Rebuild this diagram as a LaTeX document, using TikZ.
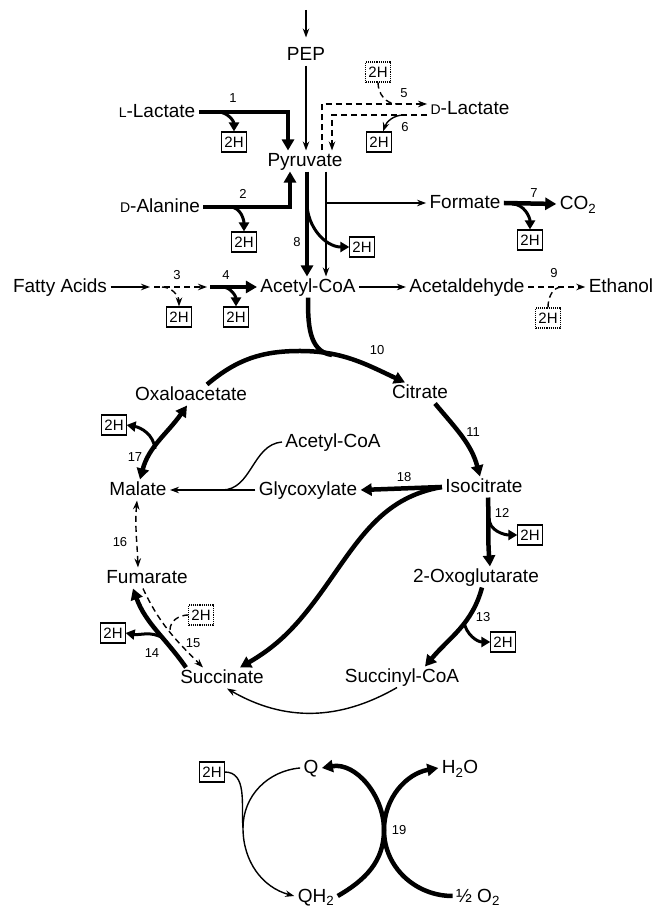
\documentclass[tikz,border=0pt]{standalone}
\usepackage{fontspec}
\setmainfont{Liberation Sans}
\usetikzlibrary{arrows.meta}

\newcommand*{\smallL}[1]{{\fontsize{14}{14}\selectfont #1}}

\begin{document}
\begin{tikzpicture}
[
	x=1pt, y=1pt,
	every node/.style={font=\fontsize{19}{22}\selectfont, text height=13pt, text depth=1pt},
	hbox/.style={draw, line width=1.1pt, font=\fontsize{15}{16}\selectfont, text height=11pt, text depth=0pt, inner xsep=2.5pt, inner ysep=4.5pt},
	dotbox/.style={hbox, densely dotted},
	num/.style={font=\fontsize{13}{14}\selectfont, text height=9pt, text depth=0pt, inner sep=1pt},
	flow/.style={line width=1.4pt, -{Stealth[length=9pt,width=6.5pt]}},
	dflow/.style={flow, dash pattern=on 6pt off 4pt},
	dline/.style={line width=1.4pt, dash pattern=on 6pt off 4pt},
	heavy/.style={line width=4.5pt, -{Triangle[length=11pt,width=12pt]}},
	sidearrow/.style={line width=3pt, -{Triangle[length=9pt,width=10pt]}}
]

	\useasboundingbox (0,0) rectangle (656,910);

	% substrates above the cycle
	\node (pep) at (306,855) {PEP};
	\node (pyr) at (305,749) {Pyruvate};
	\node (llac) at (157,798) {\smallL{L}-Lactate};
	\node (dlac) at (470,801) {\smallL{D}-Lactate};
	\node (dala) at (160,703) {\smallL{D}-Alanine};
	\node (form) at (465,707) {Formate};
	\node (co2) at (578,706) {CO\textsubscript{2}};
	\node (fatty) at (60,623) {Fatty Acids};
	\node (acoa) at (308,623) {Acetyl-CoA};
	\node (acald) at (467,623) {Acetaldehyde};
	\node (etoh) at (621,623) {Ethanol};

	% cycle
	\node (oaa) at (191,515) {Oxaloacetate};
	\node (cit) at (420,517) {Citrate};
	\node (iso) at (484,423) {Isocitrate};
	\node (oxo) at (476,333) {2-Oxoglutarate};
	\node (sca) at (402,233) {Succinyl-CoA};
	\node (succ) at (222,232) {Succinate};
	\node (fum) at (147,332) {Fumarate};
	\node (mal) at (138,420) {Malate};
	\node (glyox) at (308,420) {Glycoxylate};
	\node (acoab) at (333,468) {Acetyl-CoA};

	% quinone
	\node (q) at (311,142) {Q};
	\node (qh2) at (316,14) {QH\textsubscript{2}};
	\node (h2o) at (460,142) {H\textsubscript{2}O};
	\node (ox) at (478,14) {½ O\textsubscript{2}};

	% reducing equivalents
	\node[hbox] (h1) at (234,768) {2H};
	\node[dotbox] (h5) at (378,838) {2H};
	\node[hbox] (h6) at (379,768) {2H};
	\node[hbox] (h2) at (244,668) {2H};
	\node[hbox] (h8) at (362,663) {2H};
	\node[hbox] (h7) at (530,670) {2H};
	\node[hbox] (h3) at (179,593) {2H};
	\node[hbox] (h4) at (236,593) {2H};
	\node[dotbox] (h9) at (548,592) {2H};
	\node[hbox] (h17) at (114,485) {2H};
	\node[hbox] (h12) at (530,375) {2H};
	\node[hbox] (h13) at (503,268) {2H};
	\node[hbox] (h14) at (113,277) {2H};
	\node[dotbox] (h15) at (201,295) {2H};
	\node[hbox] (hq) at (212,138) {2H};

	% reaction numbers
	\node[num] (n1) at (233,812) {1};
	\node[num] (n2) at (243,716) {2};
	\node[num] (n3) at (177,635) {3};
	\node[num] (n4) at (226,635) {4};
	\node[num] (n5) at (404,817) {5};
	\node[num] (n6) at (405,783) {6};
	\node[num] (n7) at (534,717) {7};
	\node[num] (n8) at (297,668) {8};
	\node[num] (n9) at (554,637) {9};
	\node[num] (n10) at (377,560) {10};
	\node[num] (n11) at (473,478) {11};
	\node[num] (n12) at (502,397) {12};
	\node[num] (n13) at (483,293) {13};
	\node[num] (n14) at (152,257) {14};
	\node[num] (n15) at (193,267) {15};
	\node[num] (n16) at (120,368) {16};
	\node[num] (n17) at (135,453) {17};
	\node[num] (n18) at (404,433) {18};
	\node[num] (n19) at (399,80) {19};

	% PEP to pyruvate
	\coordinate (pepin) at (306,900);
	\draw[flow] (pepin) -- ([yshift=7pt]pep.north);
	\draw[flow] (pep.south) -- (pep.south |- pyr.north);

	% lactate and alanine
	\draw[heavy] (llac.east) -| ([xshift=-17pt]pyr.north);
	\coordinate (b1) at (218,798);
	\draw[sidearrow] (b1) to[out=0,in=90] (h1.north);
	\draw[heavy] (dala.east) -| ([xshift=-15pt]pyr.south);
	\coordinate (b2) at (230,703);
	\draw[sidearrow] (b2) to[out=0,in=90] (h2.north);

	\draw[dflow] ([xshift=17pt]pyr.north) |- ([yshift=5pt]dlac.west);
	\draw[dflow] ([yshift=-6pt]dlac.west) -| ([xshift=27pt]pyr.north);
	\coordinate (b5) at (397,806);
	\draw[dline] (h5.south) to[out=-90,in=180] (b5);
	\coordinate (b6) at (404,795);
	\draw[flow] (b6) to[out=180,in=70] ([xshift=4pt]h6.north);

	% pyruvate to acetyl-CoA and formate
	\draw[heavy] ([xshift=2pt]pyr.south) -- ([xshift=2pt]pyr.south |- acoa.north);
	\draw[flow] ([xshift=21pt]pyr.south) -- ([xshift=21pt]pyr.south |- acoa.north);
	\draw[flow] ([xshift=21pt]pyr.south |- form.west) -- (form.west);
	\draw[sidearrow] ([xshift=2pt]pyr.south |- form.west) to[out=-90,in=180] (h8.west);
	\draw[heavy] (form.east) -- (co2.west);
	\coordinate (b7) at (512,706);
	\draw[sidearrow] (b7) to[out=0,in=90] (h7.north);

	% fatty acids, acetaldehyde, ethanol
	\coordinate (fa1) at (150,623);
	\coordinate (fa2) at (207,623);
	\draw[flow] (fatty.east) -- (fa1);
	\draw[dflow] ([xshift=4pt]fa1) -- (fa2);
	\draw[heavy] ([xshift=3pt]fa2) -- (acoa.west);
	\coordinate (b3) at (162,623);
	\draw[dflow] (b3) to[out=0,in=90] (h3.north);
	\coordinate (b4) at (222,623);
	\draw[sidearrow] (b4) to[out=0,in=90] (h4.north);
	\draw[flow] (acoa.east) -- (acald.west);
	\draw[dflow] (acald.east) -- (etoh.west);
	\coordinate (b9) at (562,623);
	\draw[dline] (h9.north) to[out=90,in=180] (b9);

	% citrate cycle
	\coordinate (c10) at (300,559);
	\coordinate (j10) at (332,555);
	\draw[heavy] ([xshift=16pt]oaa.north) to[out=40,in=180] (c10) to[out=0,in=155] ([xshift=-15pt]cit.north);
	\draw[heavy,-] (acoa.south) to[out=-90,in=172] (j10);
	\draw[heavy] ([xshift=15pt]cit.south) to[out=-50,in=105] ([xshift=-4pt]iso.north);
	\draw[heavy] ([xshift=4pt]iso.south) to[out=-88,in=95] ([xshift=14pt]oxo.north);
	\coordinate (b12) at (489,392);
	\draw[sidearrow] (b12) to[out=-90,in=180] (h12.west);
	\draw[heavy] ([xshift=6pt]oxo.south) to[out=-105,in=50] ([xshift=23pt]sca.north);
	\coordinate (b13) at (464,288);
	\draw[sidearrow] (b13) to[out=-80,in=180] (h13.west);
	\draw[flow] ([xshift=-5pt]sca.south) to[out=-150,in=-30] ([xshift=5pt]succ.south);

	% glyoxylate shunt
	\coordinate (sm) at (330,330);
	\draw[heavy] (iso.west) to[out=190,in=55] (sm) to[out=-125,in=30] ([xshift=18pt]succ.north);
	\draw[heavy] (iso.west) -- (glyox.east);
	\draw[flow] (glyox.west) -- (mal.east);
	\coordinate (jg) at (222,420);
	\draw[line width=1.4pt] (acoab.west) to[out=185,in=0] (jg);

	% malate, fumarate, succinate
	\draw[heavy,{Triangle[length=11pt,width=12pt]}-{Triangle[length=11pt,width=12pt]}] ([xshift=2pt]mal.north) to[out=75,in=-125] ([xshift=-4pt]oaa.south);
	\coordinate (b17) at (155,461);
	\draw[sidearrow] (b17) to[out=95,in=-10] (h17.east);
	\draw[dflow,{Stealth[length=9pt,width=6.5pt]}-{Stealth[length=9pt,width=6.5pt]}] ([xshift=-1pt]mal.south) to[out=-95,in=92] ([xshift=-9pt]fum.north);
	\draw[heavy] ([xshift=-36pt]succ.north) to[out=125,in=-70] ([xshift=-14pt]fum.south);
	\coordinate (b14) at (163,272);
	\draw[sidearrow] (b14) to[out=150,in=-10] (h14.east);
	\draw[dflow] ([xshift=-4pt]fum.south) to[out=-65,in=135] ([xshift=-19pt]succ.north);
	\coordinate (b15) at (170,280);
	\draw[dline] (h15.west) to[out=180,in=90] (b15);

	% quinone and oxygen
	\coordinate (cl) at (243,82);
	\coordinate (cm) at (384,80);
	\draw[flow] (q.west) to[out=185,in=90] (cl) to[out=-90,in=165] (qh2.west);
	\draw[line width=1.4pt] (hq.east) to[out=0,in=95] (cl);
	\draw[heavy] (qh2.east) to[out=30,in=-90] (cm) to[out=90,in=10] (q.east);
	\draw[heavy] (ox.west) to[out=180,in=-90] (cm) to[out=90,in=190] (h2o.west);

\end{tikzpicture}
\end{document}
